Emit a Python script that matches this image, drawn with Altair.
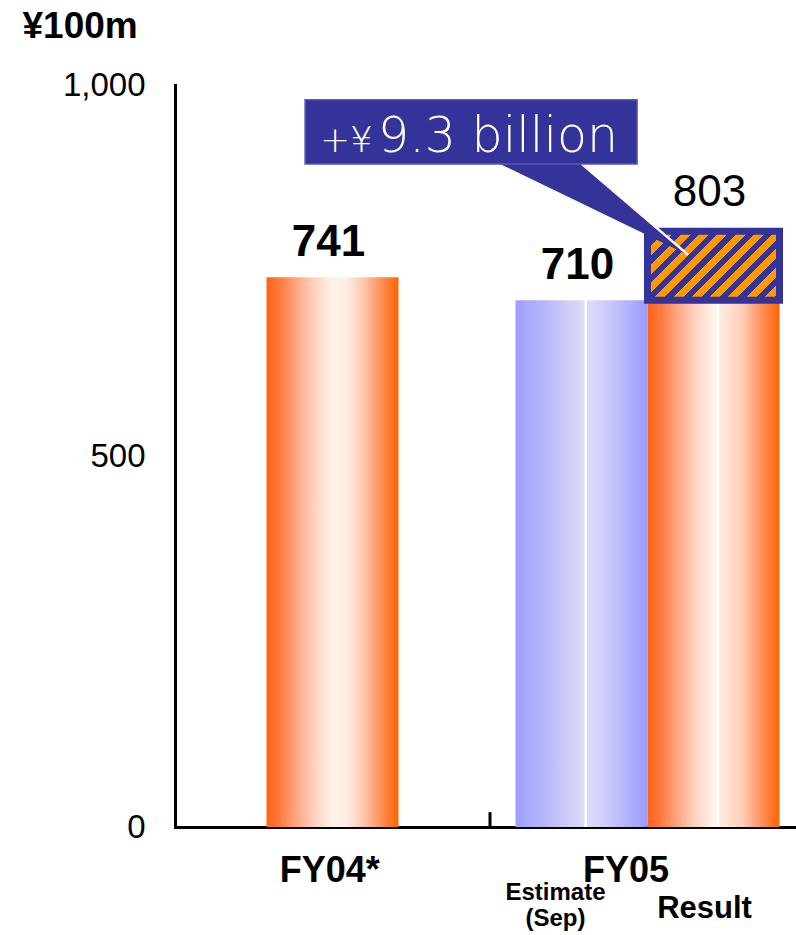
import altair as alt
import pandas as pd

# ---------------- data ----------------
groups = ["FY04*", "FY05"]
series = ["FY04", "Estimate\n(Sep)", "Result"]
series_group = [0, 1, 1]
values = [741, 710, 803]
y_ticks = [0, 500, 1000]
unit_label = "¥100m"
callout_prefix = "+¥"
callout_main = "9.3 billion"

# annotation anchors in data units (x in group widths, y in ¥100m)
callout_box_x = [0.413, 1.467]
callout_box_y = [893.5, 980.0]
pointer_base_x = [1.032, 1.292]
pointer_tip = [1.629, 771.0]
callout_text_at = [0.635, 910.0]

# ---------------- layout / style ----------------
PLOT_W, PLOT_H = 621, 742
GROUP_PX = 315
X_MAX = PLOT_W / GROUP_PX
BAR_W = 132 / GROUP_PX
slot_offset = [-0.5, -1.0, 0.0]
ORANGE = "#FF9900"
NAVY = "#333399"
FONT = "Liberation Sans"

x0 = [g + 0.5 + o * BAR_W for g, o in zip(series_group, slot_offset)]
bars = pd.DataFrame({
    "series": series,
    "group": [groups[g] for g in series_group],
    "value": values,
    "x": x0,
    "x2": [a + BAR_W for a in x0],
    "idx": list(range(len(series))),
})
bars["xc"] = (bars["x"] + bars["x2"]) / 2

xs = alt.Scale(domain=[0, X_MAX], nice=False, zero=False)
ys = alt.Scale(domain=[0, 1000], nice=False, zero=True)


def grad(stops, x2=1.0, y2=0.0):
    return alt.LinearGradient(
        gradient="linear",
        stops=[alt.GradientStop(color=c, offset=o) for o, c in stops],
        x1=0, y1=0, x2=x2, y2=y2,
    )


orange_stops = [(0, "#FF6418"), (0.1, "#FF7A3C"), (0.22, "#FFA47E"), (0.36, "#FFD2BE"),
                (0.5, "#FFF2E8"), (0.6, "#FFEFE4"), (0.72, "#FFCDB6"), (0.86, "#FF925E"),
                (1, "#FF6400")]
orange_line_stops = [(0, "#FF6418"), (0.1, "#FF7A3C"), (0.22, "#FFA47E"), (0.36, "#FFD2BE"),
                     (0.5, "#FFF2E8"), (0.525, "#FFF4EC"), (0.525, "#FFFFFF"), (0.54, "#FFFFFF"),
                     (0.54, "#FFEFE4"), (0.72, "#FFCDB6"), (0.86, "#FF925E"), (1, "#FF6400")]
blue_stops = [(0, "#9E9EFF"), (0.2, "#B4B4FC"), (0.4, "#CECEF9"), (0.52, "#DEDEF9"),
              (0.525, "#FFFFFF"), (0.54, "#FFFFFF"), (0.545, "#DCDCF9"), (0.7, "#CACAFA"),
              (0.86, "#B0B0FC"), (1, "#9A9AFF")]

# diagonal hatch as a hard-stop gradient
hw = BAR_W * GROUP_PX
hh = (values[2] - values[1]) * PLOT_H / 1000
m = (hw + hh) / (hw * hw + hh * hh)
n_stripes = 11
hatch_stops = []
for i in range(n_stripes):
    a, b, c = i / n_stripes, (i + 0.55) / n_stripes, (i + 1) / n_stripes
    hatch_stops += [(a, ORANGE), (b, ORANGE), (b, NAVY), (c, NAVY)]

x_axis = alt.Axis(
    values=[0.49, 1.43],
    labelExpr=f"datum.value < 1 ? '{groups[0]}' : '{groups[1]}'",
    ticks=False, tickSize=0, grid=False, title=None,
    domainColor="black", domainWidth=3, domainCap="square",
    labelFont=FONT, labelFontSize=36, labelFontWeight="bold", labelColor="black",
    labelPadding=26, labelFlush=False, labelOverlap=False,
)
y_axis = alt.Axis(
    values=y_ticks, labelExpr="format(datum.value, ',')",
    ticks=False, tickSize=0, grid=False,
    domainColor="black", domainWidth=3, domainCap="square",
    labelFont=FONT, labelFontSize=33, labelColor="black", labelPadding=30,
    title=unit_label, titleAngle=0, titleX=-153, titleY=-48,
    titleAlign="left", titleBaseline="alphabetic",
    titleFont=FONT, titleFontSize=37, titleFontWeight="bold", titleColor="black",
)


def X(field):
    return alt.X(field, scale=xs, axis=x_axis)


def Y(field):
    return alt.Y(field, scale=ys, axis=y_axis)


def Y0(v):
    return alt.YDatum(v, type="quantitative", scale=ys, axis=y_axis)


base = alt.Chart(bars)

bar_fy04 = base.transform_filter("datum.idx == 0").mark_rect(fill=grad(orange_stops)).encode(
    x=X("x:Q"), x2="x2:Q", y=Y("value:Q"), y2=alt.datum(0),
)
bar_est = base.transform_filter("datum.idx == 1").mark_rect(fill=grad(blue_stops)).encode(
    x=X("x:Q"), x2="x2:Q", y=Y("value:Q"), y2=alt.datum(0),
)
bar_res = base.transform_filter("datum.idx == 2").mark_rect(fill=grad(orange_line_stops)).encode(
    x=X("x:Q"), x2="x2:Q", y=Y("value:Q"), y2=alt.datum(0),
)

hatch_df = pd.DataFrame({"x": [x0[2]], "x2": [x0[2] + BAR_W], "lo": [values[1]], "hi": [values[2]]})
hatch = alt.Chart(hatch_df).mark_rect(
    fill=grad(hatch_stops, x2=m * hw, y2=m * hh), stroke=NAVY, strokeWidth=7
).encode(x=X("x:Q"), x2="x2:Q", y=Y("hi:Q"), y2="lo:Q")

# group divider tick on the x axis
tick = alt.Chart(pd.DataFrame({"b": [1.0], "lo": [0], "hi": [20]})).mark_rule(
    color="black", strokeWidth=3
).encode(x=X("b:Q"), y=Y("lo:Q"), y2="hi:Q")

value_labels_bold = base.transform_filter("datum.idx < 2").mark_text(
    font=FONT, fontSize=44, fontWeight="bold", dy=-21, dx=-4,
    baseline="alphabetic", color="black",
).encode(x=X("xc:Q"), y=Y("value:Q"), text="value:Q")

value_labels_reg = base.transform_filter("datum.idx == 2").mark_text(
    font=FONT, fontSize=44, dy=-25, dx=-4,
    baseline="alphabetic", color="black",
).encode(x=X("xc:Q"), y=Y("value:Q"), text="value:Q")

est_label = base.transform_filter("datum.idx == 1").mark_text(
    font=FONT, fontSize=24, fontWeight="bold", lineBreak="\n", lineHeight=26,
    dx=-26, dy=73, baseline="alphabetic", color="black",
).encode(x=X("xc:Q"), y=Y0(0), text="series:N")

res_label = base.transform_filter("datum.idx == 2").mark_text(
    font=FONT, fontSize=31, fontWeight="bold", dx=-9, dy=91,
    baseline="alphabetic", color="black",
).encode(x=X("xc:Q"), y=Y0(0), text="series:N")

# callout
tx, ty = pointer_tip
bx0, bx1 = pointer_base_x
by = callout_box_y[0]
mid_y2 = by + (ty - by) * (bx1 - bx0) / (tx - bx0)
pointer_df = pd.DataFrame({"x": [bx0, bx1, tx], "y": [by, by, ty], "y2": [by, mid_y2, ty]})
pointer = alt.Chart(pointer_df).mark_area(color=NAVY, opacity=1).encode(
    x=X("x:Q"), y=Y("y:Q"), y2="y2:Q",
)
edge_df = pd.DataFrame({"x": [bx1, tx], "y": [by, ty]})
edge = alt.Chart(edge_df).mark_line(color="white", strokeWidth=2.5).encode(
    x=X("x:Q"), y=Y("y:Q"),
)

box_df = pd.DataFrame({"x": [callout_box_x[0]], "x2": [callout_box_x[1]],
                       "y": [callout_box_y[0]], "y2": [callout_box_y[1]]})
box = alt.Chart(box_df).mark_rect(fill=NAVY, stroke="#5A5AB4", strokeWidth=1.5).encode(
    x=X("x:Q"), x2="x2:Q", y=Y("y:Q"), y2="y2:Q",
)

ct_df = pd.DataFrame({"x": [callout_text_at[0]], "y": [callout_text_at[1]],
                      "pre": [callout_prefix], "main": [callout_main]})
ct_pre = alt.Chart(ct_df).mark_text(
    font="DejaVu Sans", fontWeight=200, fontSize=36, align="right",
    baseline="alphabetic", dx=-2, color="white",
).encode(x=X("x:Q"), y=Y("y:Q"), text="pre:N")
ct_main = alt.Chart(ct_df).mark_text(
    font="DejaVu Sans", fontWeight=200, fontSize=49, align="left",
    baseline="alphabetic", dx=3, color="white",
).encode(x=X("x:Q"), y=Y("y:Q"), text="main:N")

chart = alt.layer(
    bar_fy04, bar_est, bar_res, hatch, tick, value_labels_bold, value_labels_reg,
    est_label, res_label, pointer, edge, box, ct_pre, ct_main,
).properties(
    width=PLOT_W, height=PLOT_H,
    padding={"left": 175, "top": 85, "right": 0, "bottom": 108},
    autosize=alt.AutoSizeParams(type="none"),
    background="white",
).configure_view(strokeWidth=0)

chart.save("out.html", embed_options={"renderer": "svg", "actions": False})
